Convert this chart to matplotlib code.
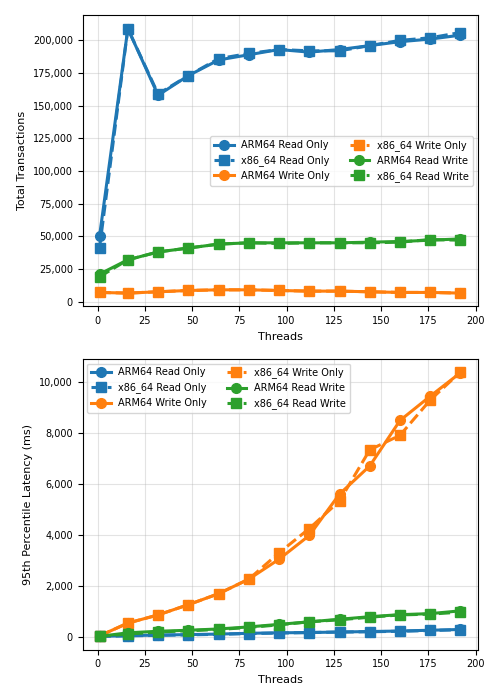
import matplotlib
matplotlib.use("Agg")
import matplotlib.pyplot as plt
from matplotlib.ticker import FuncFormatter

threads = [1, 16, 32, 48, 64, 80, 96, 112, 128, 144, 160, 176, 192]
tps_arm_ro = [50000, 209000, 158000, 173000, 185000, 189000, 193000, 191000, 193000, 196000, 199000, 201000, 204000]
tps_x86_ro = [41000, 209000, 159000, 173000, 186000, 190000, 193000, 192000, 192000, 196000, 200000, 202000, 206000]
tps_arm_wo = [7000, 6500, 7500, 8500, 9000, 9000, 8500, 8000, 8000, 7500, 7000, 7000, 6500]
tps_x86_wo = [7000, 6500, 7500, 8500, 9000, 9000, 8500, 8000, 8000, 7500, 7000, 7000, 6500]
tps_arm_rw = [21000, 32000, 38000, 41000, 44000, 45000, 45000, 45000, 45000, 45500, 46000, 47000, 48000]
tps_x86_rw = [19000, 32000, 38000, 41000, 44000, 45000, 44500, 45000, 45000, 45000, 45500, 47500, 47000]

lat_arm_ro = [30, 60, 80, 100, 120, 150, 170, 180, 200, 220, 240, 270, 300]
lat_x86_ro = [30, 50, 70, 90, 110, 140, 160, 180, 200, 210, 230, 260, 290]
lat_arm_wo = [50, 550, 870, 1270, 1700, 2270, 3050, 3980, 5600, 6700, 8480, 9430, 10350]
lat_x86_wo = [50, 550, 870, 1270, 1700, 2270, 3300, 4250, 5330, 7330, 7900, 9280, 10380]
lat_arm_rw = [30, 170, 230, 270, 320, 400, 500, 600, 700, 800, 880, 920, 1030]
lat_x86_rw = [30, 120, 200, 250, 300, 380, 480, 600, 680, 780, 870, 900, 980]

blue, orange, green = "#1f77b4", "#ff7f0e", "#2ca02c"
fig, (ax1, ax2) = plt.subplots(2, 1, figsize=(5, 7), dpi=100)
fmt = FuncFormatter(lambda v, p: f"{int(v):,}")

def draw(ax, data):
    for (lbl, vals, c, m, ls) in data:
        ax.plot(threads, vals, color=c, marker=m, linestyle=ls, linewidth=2.2, markersize=7, label=lbl)
    ax.set_xlabel("Threads", fontsize=8)
    ax.tick_params(labelsize=7)
    ax.grid(True, alpha=0.35)
    ax.yaxis.set_major_formatter(fmt)
    ax.set_xticks(range(0, 201, 25))
    ax.set_xlim(-8, 201)

draw(ax1, [("ARM64 Read Only", tps_arm_ro, blue, "o", "-"),
           ("x86_64 Read Only", tps_x86_ro, blue, "s", "--"),
           ("ARM64 Write Only", tps_arm_wo, orange, "o", "-"),
           ("x86_64 Write Only", tps_x86_wo, orange, "s", "--"),
           ("ARM64 Read Write", tps_arm_rw, green, "o", "-"),
           ("x86_64 Read Write", tps_x86_rw, green, "s", "--")])
ax1.set_ylabel("Total Transactions", fontsize=8)
ax1.set_yticks(range(0, 200001, 25000))
ax1.legend(loc="center right", ncol=2, fontsize=7)

draw(ax2, [("ARM64 Read Only", lat_arm_ro, blue, "o", "-"),
           ("x86_64 Read Only", lat_x86_ro, blue, "s", "--"),
           ("ARM64 Write Only", lat_arm_wo, orange, "o", "-"),
           ("x86_64 Write Only", lat_x86_wo, orange, "s", "--"),
           ("ARM64 Read Write", lat_arm_rw, green, "o", "-"),
           ("x86_64 Read Write", lat_x86_rw, green, "s", "--")])
ax2.set_ylabel("95th Percentile Latency (ms)", fontsize=8)
ax2.legend(loc="upper left", ncol=2, fontsize=7)

fig.subplots_adjust(left=0.165, right=0.955, top=0.978, bottom=0.072, hspace=0.18)
fig.savefig("out.png")
